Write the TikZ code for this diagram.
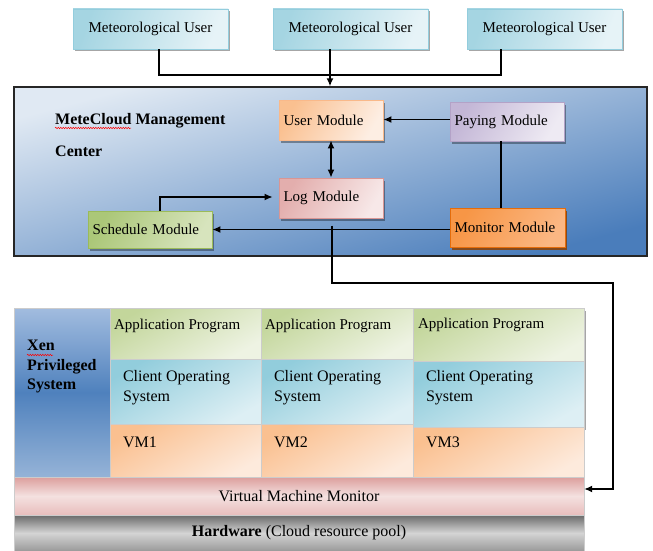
\documentclass[tikz,border=0pt]{standalone}
\usepackage{fontspec}
\setmainfont{Liberation Serif}
\usetikzlibrary{shadows,arrows.meta,decorations.pathmorphing}
\definecolor{usrA}{HTML}{A5D5E2}
\definecolor{usrB}{HTML}{E6F3F7}
\definecolor{usrD}{HTML}{93CDDD}
\definecolor{mgA}{HTML}{E0E9F3}
\definecolor{mgB}{HTML}{4A7DBB}
\definecolor{umA}{HTML}{FAC090}
\definecolor{umB}{HTML}{FDEEE3}
\definecolor{umD}{HTML}{F9B98A}
\definecolor{pmA}{HTML}{C3B6D6}
\definecolor{pmB}{HTML}{EEEAF3}
\definecolor{pmD}{HTML}{B3A2C7}
\definecolor{lmA}{HTML}{E3AEAD}
\definecolor{lmB}{HTML}{F7E8E8}
\definecolor{lmD}{HTML}{D99694}
\definecolor{smA}{HTML}{ABC778}
\definecolor{smB}{HTML}{D7E4BD}
\definecolor{smD}{HTML}{9BBB59}
\definecolor{moA}{HTML}{F79646}
\definecolor{moB}{HTML}{FBB783}
\definecolor{moD}{HTML}{E46C0A}
\definecolor{moS}{HTML}{984807}
\definecolor{apA}{HTML}{C3D69B}
\definecolor{apB}{HTML}{EEF3E3}
\definecolor{csA}{HTML}{92CDDC}
\definecolor{csB}{HTML}{DDEFF4}
\definecolor{vmA}{HTML}{FAC090}
\definecolor{vmB}{HTML}{FDEADC}
\definecolor{xnA}{HTML}{A2BCDF}
\definecolor{xnB}{HTML}{4F81BD}
\definecolor{xnC}{HTML}{95B3D7}
\definecolor{vmmA}{HTML}{DC9E9C}
\definecolor{vmmB}{HTML}{F4E1E0}
\definecolor{vmmC}{HTML}{E8BDBC}
\definecolor{hwA}{HTML}{6A6A6A}
\definecolor{hwB}{HTML}{D4D4D4}
\definecolor{hwC}{HTML}{9A9A9A}
\begin{document}
\begin{tikzpicture}[x=1pt,y=-1pt,
  sz/.style 2 args={minimum width=#1pt,minimum height=#2pt},
  base/.style={rectangle,inner sep=0pt,font=\fontsize{15}{18}\selectfont},
  shad/.style={drop shadow={shadow xshift=2pt,shadow yshift=-2.5pt,fill=black,opacity=0.35}},
  userbox/.style={base,shad,draw=usrD,line width=0.8pt,top color=usrA,bottom color=usrB,shading angle=70},
  mgbox/.style={rectangle,inner sep=0pt,draw=black!85,line width=1.4pt,top color=mgA,bottom color=mgB,shading angle=15},
  modbox/.style n args={3}{base,shad,draw=#3,line width=0.8pt,top color=#1,bottom color=#2,shading angle=60,align=left,inner xsep=4.5pt},
  titlefont/.style={inner sep=0pt,font=\bfseries\fontsize{16}{19}\selectfont},
  cell/.style={rectangle,inner sep=0pt,draw=white!60!gray,line width=0.4pt},
  appsh/.style={cell,top color=apA,bottom color=apB,shading angle=30},
  cssh/.style={cell,top color=csA,bottom color=csB,shading angle=30},
  vmsh/.style={cell,top color=vmA,bottom color=vmB,shading angle=30},
  lblA/.style={inner sep=0pt,font=\fontsize{15}{18}\selectfont},
  lblB/.style={inner sep=0pt,font=\fontsize{16}{20}\selectfont,align=left},
  conn/.style={line width=1.4pt,black},
  arr/.style={conn,-{Latex[length=8pt,width=7pt]}},
  darr/.style={conn,{Latex[length=8pt,width=7pt]}-{Latex[length=8pt,width=7pt]}},
  squig/.style={red,line width=0.5pt,decorate,decoration={snake,amplitude=0.7pt,segment length=2.5pt}}
]
\useasboundingbox (0,0) rectangle (653,551);
\fill[white] (0,0) rectangle (653,551);

% users
\node[userbox,sz={155}{40}] (u1) at (150.5,29) {Meteorological User};
\node[userbox,sz={155}{40}] (u2) at (350.5,29) {Meteorological User};
\node[userbox,sz={155}{40}] (u3) at (544.5,29) {Meteorological User};

% management centre
\node[mgbox,sz={633}{169}] (mg) at (330.5,171.5) {};
\node[titlefont,anchor=base west] (t1) at (55,124) {MeteCloud Management};
\node[titlefont,anchor=base west] (t2) at (55,156) {Center};
\draw[squig] ([yshift=-4pt]t1.base west) -- ++(76,0);

\node[modbox={umA}{umB}{umD},text width=95pt,minimum height=40pt] (um) at (331,120) {User Module};
\node[modbox={pmA}{pmB}{pmD},text width=105pt,minimum height=39pt] (pm) at (507,121.5) {Paying Module};
\node[modbox={lmA}{lmB}{lmD},text width=95pt,minimum height=40pt] (lm) at (331,198) {Log Module};
\node[modbox={smA}{smB}{smD},text width=115pt,minimum height=37pt] (sm) at (150,229.5) {Schedule Module};
\node[modbox={moA}{moB}{moD},text width=106pt,minimum height=39pt,drop shadow={shadow xshift=2pt,shadow yshift=-2.5pt,fill=moS,opacity=0.8}] (mo) at (507.5,227.5) {Monitor Module};

% connectors top
\coordinate (jl) at (159,75);
\coordinate (jr) at (501,75);
\draw[conn] ([xshift=8.5pt]u1.south) -- (jl) -- (jr) -- ([xshift=-43.5pt]u3.south);
\draw[arr] ([xshift=-20.5pt]u2.south) -- ([xshift=-20.5pt]u2.south |- mg.north);

% connectors in management
\draw[arr] ([yshift=2pt]pm.west) -- ([yshift=2pt]pm.west -| um.east);
\draw[darr] (um.south) -- (lm.north);
\draw[arr] ([xshift=10pt]sm.north) |- ([xshift=-6pt,yshift=1pt]lm.west);
\draw[conn] ([xshift=-6pt]pm.south) -- ([xshift=-6pt]pm.south |- mo.north);
\draw[arr] ([yshift=-2pt]mo.west) -- ([yshift=-2pt]mo.west -| sm.east);

% bottom layers
\node[cell,sz={96}{169},top color=xnA,bottom color=xnC,middle color=xnB] (xen) at (62,392.5) {};
\node[inner sep=0pt,font=\bfseries\fontsize{16}{19.5}\selectfont,align=left,anchor=north west] (xt) at (27,340) {Xen\\Privileged\\System};
\draw[squig] ([yshift=-15pt]xt.north west) -- ++(26,0);

\node[appsh,sz={151}{51}] (ap1) at (185.5,333.5) {};
\node[appsh,sz={152}{51}] (ap2) at (337,333.5) {};
\node[appsh,sz={171}{53},shad] (ap3) at (498.5,334.5) {};
\node[cssh,sz={151}{65}] (cs1) at (185.5,391.5) {};
\node[cssh,sz={152}{65}] (cs2) at (337,391.5) {};
\node[cssh,sz={171}{66},shad] (cs3) at (498.5,394) {};
\node[vmsh,sz={151}{53}] (vm1) at (185.5,450.5) {};
\node[vmsh,sz={152}{53}] (vm2) at (337,450.5) {};
\node[vmsh,sz={171}{50}] (vm3) at (498.5,452) {};

\node[lblA,anchor=west] (at1) at ([xshift=4pt,yshift=-18pt]ap1.north west) {Application Program};
\node[lblA,anchor=west] (at2) at ([xshift=4pt,yshift=-18pt]ap2.north west) {Application Program};
\node[lblA,anchor=west] (at3) at ([xshift=5pt,yshift=-17pt]ap3.north west) {Application Program};
\node[lblB,anchor=west] (ct1) at ([xshift=13pt,yshift=-29pt]cs1.north west) {Client Operating\\System};
\node[lblB,anchor=west] (ct2) at ([xshift=13pt,yshift=-29pt]cs2.north west) {Client Operating\\System};
\node[lblB,anchor=west] (ct3) at ([xshift=13pt,yshift=-27pt]cs3.north west) {Client Operating\\System};
\node[lblB,anchor=west] (vt1) at ([xshift=13pt,yshift=-19pt]vm1.north west) {VM1};
\node[lblB,anchor=west] (vt2) at ([xshift=13pt,yshift=-19pt]vm2.north west) {VM2};
\node[lblB,anchor=west] (vt3) at ([xshift=13pt,yshift=-16pt]vm3.north west) {VM3};

\node[cell,sz={570}{38},top color=vmmA,bottom color=vmmC,middle color=vmmB,font=\fontsize{16}{20}\selectfont] (vmm) at (299,496) {Virtual Machine Monitor};
\node[cell,sz={570}{36},top color=hwA,bottom color=hwC,middle color=hwB,font=\fontsize{16}{20}\selectfont] (hw) at (299,533) {\textbf{Hardware} (Cloud resource pool)};

% management -> VMM
\coordinate (sp) at ([xshift=1pt]lm.south |- mo.west);
\coordinate (r1) at (613,283);
\coordinate (r2) at (613,489);
\draw[arr] ([yshift=2pt]sp) |- (r1) -- (r2) -- (vmm.east |- r2);
\end{tikzpicture}
\end{document}
